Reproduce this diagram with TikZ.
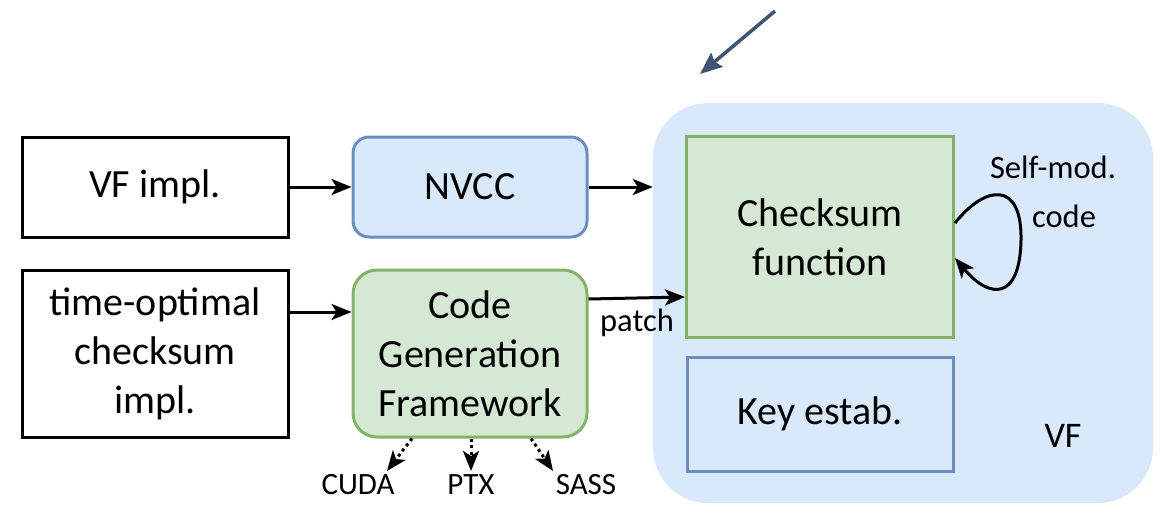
\documentclass[tikz,border=0pt]{standalone}
\usepackage{fontspec}
\setmainfont{Carlito}
\usetikzlibrary{arrows.meta,calc}
\definecolor{bluefill}{HTML}{DAE8FC}
\definecolor{bluedraw}{HTML}{6C8EBF}
\definecolor{greenfill}{HTML}{D5E8D4}
\definecolor{greendraw}{HTML}{82B366}
\definecolor{slate}{HTML}{3F5372}
\tikzset{
  box/.style={draw, line width=3pt, align=center, inner sep=0pt,
    font=\fontsize{40}{49}\selectfont},
  plainbox/.style={box, fill=white, draw=black},
  bluebox/.style={box, fill=bluefill, draw=bluedraw},
  greenbox/.style={box, fill=greenfill, draw=greendraw},
  flow/.style={line width=3pt, -{Stealth[length=20pt,width=16pt,inset=5pt]}},
  dotflow/.style={flow, dash pattern=on 3pt off 3.5pt},
  lbl/.style={font=\fontsize{32.5}{38}\selectfont, inner sep=0pt},
  outlbl/.style={font=\fontsize{31}{36}\selectfont, inner sep=0pt},
}
\begin{document}
\begin{tikzpicture}[x=1pt, y=-1pt]
\useasboundingbox (0,0) rectangle (1161,504);

% verifier container
\node[fill=bluefill, rounded corners=55pt, minimum width=500pt, minimum height=400pt,
      inner sep=0pt] (vf) at (903,303) {};
\node[lbl, font=\fontsize{36}{40}\selectfont] (vflabel) at (1063,436) {VF};

% inputs and tools
\node[plainbox, minimum width=266pt, minimum height=100pt] (vfimpl) at (155,187) {VF impl.};
\node[bluebox, rounded corners=16pt, minimum width=234pt, minimum height=100pt] (nvcc) at (470,187) {NVCC};
\node[plainbox, minimum width=266pt, minimum height=167pt] (timeopt) at (155,353.5)
  {time-optimal\\checksum\\impl.};
\node[greenbox, rounded corners=24pt, minimum width=234pt, minimum height=167pt] (cgf) at (470,353.5)
  {Code\\Generation\\Framework};

% components inside the verifier
\node[greenbox, minimum width=267pt, minimum height=201pt] (check) at (820,237) {Checksum\\function};
\node[bluebox, minimum width=266pt, minimum height=114pt] (keyest) at (820,414) {Key estab.};

% connectors
\draw[flow] (vfimpl.east) -- (nvcc.west);
\draw[flow] (nvcc.east) -- (nvcc.east -| vf.west);
\draw[flow] ([yshift=41.5pt]timeopt.east) -- ([yshift=41.5pt]cgf.west);
\draw[flow] ([yshift=54.5pt]cgf.east) -- ([yshift=-60pt]check.west);
\node[lbl] (patch) at (637,323) {patch};

% self-modifying loop
\draw[flow] ([yshift=14pt]check.east) .. controls (985,185) and (1022,180) .. (1021,240)
  .. controls (1020,300) and (990,300) .. ([yshift=-21pt]check.east);
\node[lbl] (selfmod) at (1053,167) {Self-mod.};
\node[lbl] (code) at (1064,216) {code};

% generated code outputs
\coordinate (cuda-end) at (387,471);
\coordinate (ptx-end) at (471,471);
\coordinate (sass-end) at (553,471);
\draw[dotflow] ([xshift=-58pt]cgf.south) -- (cuda-end);
\draw[dotflow] ([xshift=1pt]cgf.south) -- (ptx-end);
\draw[dotflow] ([xshift=61pt]cgf.south) -- (sass-end);
\node[outlbl] (cuda) at (358,485) {CUDA};
\node[outlbl] (ptx) at (471,485) {PTX};
\node[outlbl] (sass) at (586,485) {SASS};

% pointer arrow
\coordinate (ptr-start) at (775,11);
\coordinate (ptr-end) at (700,74);
\draw[line width=3.5pt, draw=slate, -{Stealth[length=22pt,width=18pt,inset=3pt]}] (ptr-start) -- (ptr-end);
\end{tikzpicture}
\end{document}
